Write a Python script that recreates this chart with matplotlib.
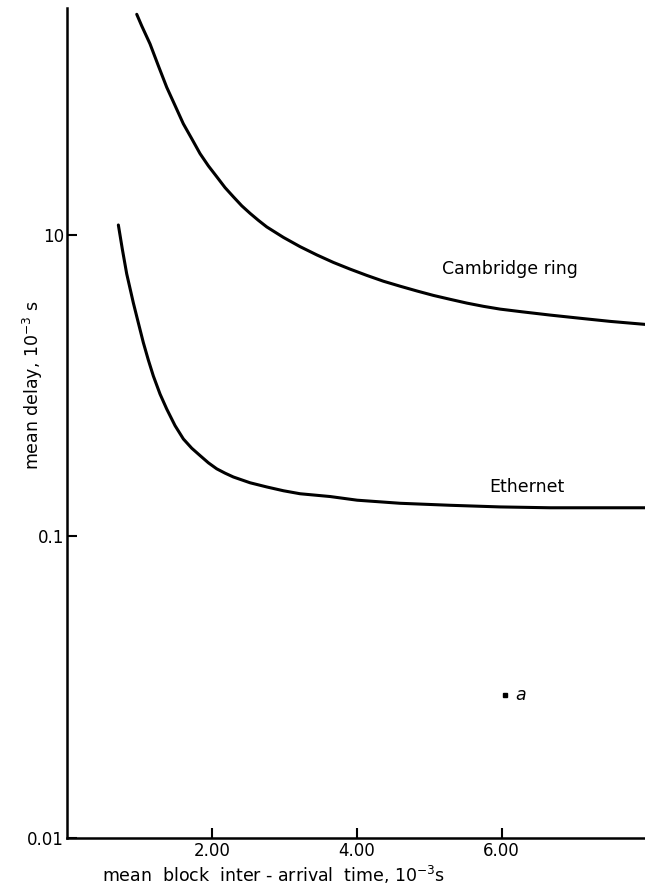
import matplotlib
matplotlib.use("Agg")
import matplotlib.pyplot as plt
from matplotlib.ticker import FixedLocator, FixedFormatter

# Data (x in 10^-3 s, y in 10^-3 s)
cambridge_x = [0.963, 1.032, 1.146, 1.261, 1.377, 1.492, 1.606, 1.722, 1.837,
               1.952, 2.068, 2.182, 2.297, 2.413, 2.528, 2.642, 2.758, 2.988,
               3.218, 3.449, 3.678, 3.909, 4.139, 4.369, 4.599, 4.830, 5.059,
               5.290, 5.521, 5.750, 5.981, 6.285, 6.671, 7.086, 7.500, 7.983]
cambridge_y = [290.6, 243.3, 185.1, 132.5, 95.3, 72.1, 54.6, 43.5, 34.6,
               28.7, 24.3, 20.6, 17.9, 15.6, 13.9, 12.5, 11.3, 9.63,
               8.36, 7.37, 6.57, 5.93, 5.39, 4.93, 4.57, 4.25, 3.97,
               3.74, 3.53, 3.36, 3.22, 3.09, 2.94, 2.80, 2.67, 2.55]

ethernet_x = [0.709, 0.764, 0.824, 0.916, 0.985, 1.054, 1.123, 1.192, 1.285,
              1.377, 1.492, 1.607, 1.722, 1.837, 1.952, 2.067, 2.182, 2.297,
              2.528, 2.758, 2.988, 3.218, 3.633, 4.006, 4.599, 5.290, 5.981,
              6.671, 7.362, 7.983]
ethernet_y = [11.64, 8.04, 5.53, 3.54, 2.61, 1.93, 1.48, 1.16, 0.879,
              0.700, 0.543, 0.443, 0.385, 0.344, 0.308, 0.281, 0.263, 0.248,
              0.227, 0.213, 0.201, 0.192, 0.184, 0.174, 0.166, 0.161, 0.157,
              0.155, 0.155, 0.155]

x_ticks = [2, 4, 6]
x_tick_labels = ["2.00", "4.00", "6.00"]
y_ticks = [0.001, 0.1, 10]
y_tick_labels = ["0.01", "0.1", "10"]

fig = plt.figure(figsize=(6.45, 8.88), dpi=100)
ax = fig.add_axes([67/645, 50/888, 1 - 67/645, 830/888])

ax.plot(cambridge_x, cambridge_y, color="black", lw=2.2,
        solid_capstyle="round", solid_joinstyle="round")
ax.plot(ethernet_x, ethernet_y, color="black", lw=2.2,
        solid_capstyle="round", solid_joinstyle="round")

ax.set_yscale("log")
ax.set_xlim(0, 7.98)
ax.set_ylim(0.001, 320)

ax.xaxis.set_major_locator(FixedLocator(x_ticks))
ax.xaxis.set_major_formatter(FixedFormatter(x_tick_labels))
ax.yaxis.set_major_locator(FixedLocator(y_ticks))
ax.yaxis.set_major_formatter(FixedFormatter(y_tick_labels))
ax.yaxis.set_minor_locator(FixedLocator([]))

for s in ["top", "right"]:
    ax.spines[s].set_visible(False)
for s in ["left", "bottom"]:
    ax.spines[s].set_linewidth(1.8)

ax.tick_params(axis="both", direction="in", length=7, width=1.5, labelsize=12, pad=3)
ax.tick_params(axis="y", pad=2)

ax.text(6.12, 5.9, "Cambridge ring", fontsize=12.5, ha="center", va="center")
ax.text(6.35, 0.214, "Ethernet", fontsize=12.5, ha="center", va="center")
ax.text(6.26, 0.0089, "a", fontsize=12.5, ha="center", va="center", style="italic")
ax.plot([6.05], [0.0089], marker="s", ms=2.5, color="black", clip_on=False)

fig.text(274/645, 1 - 875/888, r"mean  block  inter - arrival  time, $10^{-3}$s",
         fontsize=12.5, ha="center", va="center")
fig.text(33/645, 1 - 385/888, r"mean delay, $10^{-3}$ s", fontsize=12.5,
         ha="center", va="center", rotation=90)

fig.savefig("out.png", dpi=100)
